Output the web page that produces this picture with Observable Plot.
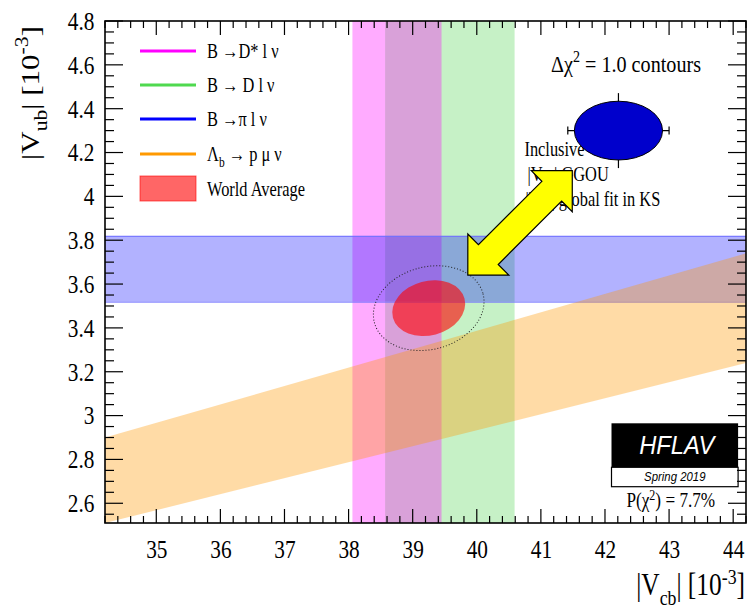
<!DOCTYPE html>
<html>
<head>
<meta charset="utf-8">
<script src="https://cdn.jsdelivr.net/npm/d3@7"></script>
<script src="https://cdn.jsdelivr.net/npm/@observablehq/plot@0.6"></script>
<style>
  html, body { margin: 0; padding: 0; background: #fff; }
  #chart svg { display: block; }
</style>
</head>
<body>
<div id="chart"></div>
<script>
// ---- |Vcb| from exclusive B -> D(*) l nu (vertical bands, units 10^-3)
const vcbModes = ["B → D* l ν", "B → D l ν"];
const vcbLow  = [38.06, 38.57];
const vcbHigh = [39.45, 40.59];

// ---- |Vub| from B -> pi l nu (horizontal band)
const vubLow  = 3.52;
const vubHigh = 3.82;

// ---- |Vub|/|Vcb| from Lambda_b -> p mu nu (band edges at the plot edges)
const lambdaVcb  = [34.2, 44.2];
const lambdaLow  = [2.51, 3.24];
const lambdaHigh = [2.90, 3.74];

// ---- World average (|Vcb|, |Vub|), half-axes of the dchi2 = 1 contour
const avgCenter = [39.25, 3.49];
const avgHalf   = [0.578, 0.124];
const avgTilt   = 15;        // degrees, positive correlation
const avg68Scale = 1.517;    // sqrt(2.3): 68% CL contour

// ---- Inclusive: |Vub| GGOU, |Vcb| global fit in KS
const inclCenter = [42.21, 4.30];
const inclHalf   = [0.688, 0.134];
const inclErr    = [0.79, 0.171];

// ---- arrow linking inclusive point and the exclusive overlap
const arrowFrom = [39.86, 3.641];
const arrowTo   = [41.49, 4.117];

// ---- axis ticks
const xTicks = [35, 36, 37, 38, 39, 40, 41, 42, 43, 44];
const yTicks = [2.6, 2.8, 3, 3.2, 3.4, 3.6, 3.8, 4, 4.2, 4.4, 4.6, 4.8];

const legendLabels = [
  [["B "], ["→"], ["D* l ν"]],
  [["B "], ["→"], [" D l ν"]],
  [["B "], ["→"], ["π l ν"]],
  [["Λ"], ["b", "sub"], [" → p μ ν"]]
];

const colors = {
  dstar: "#ff00ff", d: "#33cc33", pi: "#0000ff", lambda: "#ff9900",
  avg: "#ff0000", incl: "#0000cc", arrow: "#ffff00",
  legendLines: ["#ff00ff", "#4fd94f", "#0000ff", "#ff9900"]
};

const SERIF = "'Liberation Serif', 'Times New Roman', serif";
const SANS = "'Liberation Sans', Arial, sans-serif";
const SQ = 0.82;   // horizontal squeeze of the serif lettering

const vcbBands = [
  {mode: vcbModes[1], lo: vcbLow[1], hi: vcbHigh[1], fill: colors.d, op: 0.28},
  {mode: vcbModes[0], lo: vcbLow[0], hi: vcbHigh[0], fill: colors.dstar, op: 0.33}
];
const lambdaRows = lambdaVcb.map((v, i) => ({x: v, lo: lambdaLow[i], hi: lambdaHigh[i]}));

const plot = Plot.plot({
  width: 747,
  height: 608,
  marginLeft: 105,
  marginTop: 21,
  marginRight: 1,
  marginBottom: 85,
  style: {background: "white", fontFamily: SERIF, fontSize: "26px", color: "black"},
  x: {domain: [34.2, 44.2], ticks: xTicks, tickSize: 0, tickPadding: 16, tickFormat: d => String(d), label: null},
  y: {domain: [2.51, 4.8], ticks: yTicks, tickSize: 0, tickPadding: 11, tickFormat: d => String(+d.toFixed(2)), label: null},
  marks: [
    Plot.rect(vcbBands, {x1: "lo", x2: "hi", fill: "fill", fillOpacity: "op"}),
    Plot.rect([{lo: vubLow, hi: vubHigh}], {y1: "lo", y2: "hi", fill: colors.pi, fillOpacity: 0.3}),
    Plot.ruleY([vubLow, vubHigh], {stroke: "#7070ff", strokeWidth: 1}),
    Plot.areaY(lambdaRows, {x: "x", y1: "lo", y2: "hi", fill: colors.lambda, fillOpacity: 0.35})
  ]
});

document.getElementById("chart").appendChild(plot);
const svg = d3.select(plot);

// squeeze the axis numbers like the rest of the lettering
svg.selectAll("text").each(function () {
  const t = d3.select(this);
  const tr = t.attr("transform");
  if (tr) t.attr("transform", tr + ` scale(${SQ},1)`);
  else {
    const x = +t.attr("x") || 0, y = +t.attr("y") || 0;
    t.attr("x", null).attr("y", null).attr("transform", `translate(${x},${y}) scale(${SQ},1)`);
  }
});

const sxs = plot.scale("x"), sys = plot.scale("y");
const X = sxs.apply ? sxs.apply : d3.scaleLinear(sxs.domain, sxs.range);
const Y = sys.apply ? sys.apply : d3.scaleLinear(sys.domain, sys.range);
const fLeft = X(34.2), fRight = X(44.2), fTop = Y(4.8), fBottom = Y(2.51);

const layer = svg.append("g");

// text with sub/superscript pieces
function rich(parent, parts, {x, y, size, anchor = "start", family = SERIF, fill = "black",
                              style = null, weight = null, sq = SQ, rotate = 0, supShift = 0.42}) {
  const tf = rotate
    ? `translate(${x},${y}) rotate(${rotate}) scale(1,${sq})`
    : `translate(${x},${y}) scale(${sq},1)`;
  const t = parent.append("text")
    .attr("transform", tf)
    .attr("font-size", size)
    .attr("font-family", family)
    .attr("text-anchor", anchor)
    .attr("fill", fill);
  if (style) t.attr("font-style", style);
  if (weight) t.attr("font-weight", weight);
  let shift = 0;
  for (const [s, kind] of parts) {
    const target = kind === "sub" ? size * 0.32 : kind === "sup" ? -size * supShift : 0;
    const ts = t.append("tspan").text(s).attr("dy", target - shift);
    if (kind) ts.attr("font-size", size * 0.7);
    shift = target;
  }
  return t;
}

// ellipse drawn in data units, tilted in screen space
function ellipse(parent, c, half, tilt, scale = 1) {
  const cx = X(c[0]), cy = Y(c[1]);
  const rx = (X(c[0] + half[0]) - cx) * scale;
  const ry = (cy - Y(c[1] + half[1])) * scale;
  return parent.append("ellipse")
    .attr("cx", 0).attr("cy", 0).attr("rx", rx).attr("ry", ry)
    .attr("transform", `translate(${cx},${cy}) rotate(${-tilt})`);
}

// world average: filled dchi2 = 1 contour and dotted 68% CL contour
ellipse(layer, avgCenter, avgHalf, avgTilt).attr("fill", colors.avg).attr("fill-opacity", 0.6);
ellipse(layer, avgCenter, avgHalf, avgTilt, avg68Scale)
  .attr("fill", "none").attr("stroke", "#222").attr("stroke-width", 1).attr("stroke-dasharray", "1,2");

// legend
const legend = layer.append("g").attr("transform", `translate(${fLeft},${fTop})`);
const rowY = [30, 64, 98, 133];
rowY.forEach((ry, i) => {
  legend.append("line").attr("x1", 35).attr("x2", 91).attr("y1", ry).attr("y2", ry)
    .attr("stroke", colors.legendLines[i]).attr("stroke-width", 3);
  rich(legend, legendLabels[i], {x: 102, y: ry + 7, size: 20});
});
legend.append("rect").attr("x", 35).attr("y", 155).attr("width", 56).attr("height", 25)
  .attr("fill", colors.avg).attr("fill-opacity", 0.6)
  .attr("stroke", colors.avg).attr("stroke-opacity", 0.6);
rich(legend, [["World Average"]], {x: 102, y: 175, size: 20});

// inclusive point: caption, error cross, ellipse
const icx = X(inclCenter[0]), icy = Y(inclCenter[1]);
rich(layer, [["Inclusive"]], {x: icx - 94, y: icy + 25, size: 20});
rich(layer, [["|V"], ["ub", "sub"], ["| GGOU"]], {x: icx - 91, y: icy + 50, size: 20});
rich(layer, [["|V"], ["cb", "sub"], ["| global fit in KS"]], {x: icx - 93, y: icy + 75, size: 20});

const ex0 = X(inclCenter[0] - inclErr[0]), ex1 = X(inclCenter[0] + inclErr[0]);
const ey0 = Y(inclCenter[1] - inclErr[1]), ey1 = Y(inclCenter[1] + inclErr[1]);
const err = layer.append("g").attr("stroke", "black").attr("stroke-width", 1.2);
err.append("line").attr("x1", ex0).attr("x2", ex1).attr("y1", icy).attr("y2", icy);
err.append("line").attr("x1", icx).attr("x2", icx).attr("y1", ey0).attr("y2", ey1);
[ex0, ex1].forEach(x => err.append("line").attr("x1", x).attr("x2", x).attr("y1", icy - 4).attr("y2", icy + 4));
ellipse(layer, inclCenter, inclHalf, 0).attr("fill", colors.incl).attr("stroke", "black").attr("stroke-width", 1);

// double-headed arrow
{
  const ax = X(arrowFrom[0]), ay = Y(arrowFrom[1]);
  const bx = X(arrowTo[0]), by = Y(arrowTo[1]);
  const len = Math.hypot(bx - ax, by - ay);
  const ux = (bx - ax) / len, uy = (by - ay) / len;
  const nx = -uy, ny = ux;
  const head = 29, headHalf = 29, shaft = 14;
  const P = (px, py, a, n) => [px + ux * a + nx * n, py + uy * a + ny * n];
  const pts = [
    [ax, ay],
    P(ax, ay, head, headHalf), P(ax, ay, head, shaft),
    P(bx, by, -head, shaft), P(bx, by, -head, headHalf),
    [bx, by],
    P(bx, by, -head, -headHalf), P(bx, by, -head, -shaft),
    P(ax, ay, head, -shaft), P(ax, ay, head, -headHalf)
  ];
  layer.append("polygon").attr("points", pts.map(p => p.join(",")).join(" "))
    .attr("fill", colors.arrow).attr("stroke", "black").attr("stroke-width", 1.2)
    .attr("stroke-linejoin", "miter");
}

// contour note
rich(layer, [["Δχ"], ["2", "sup"], [" = 1.0 contours"]], {x: fRight - 120, y: fTop + 51, size: 24, anchor: "middle", sq: 0.84});

// HFLAV badge
{
  const bx = fRight - 134.5, by = fBottom - 99.7, bw = 126.6;
  layer.append("rect").attr("x", bx).attr("y", by).attr("width", bw).attr("height", 44).attr("fill", "black");
  layer.append("rect").attr("x", bx).attr("y", by + 44).attr("width", bw).attr("height", 19.4)
    .attr("fill", "white").attr("stroke", "black").attr("stroke-width", 1.2);
  rich(layer, [["HFLAV"]], {x: bx + bw / 2 + 2, y: by + 31, size: 25, family: SANS, style: "italic", fill: "white", anchor: "middle", sq: 0.95});
  rich(layer, [["Spring 2019"]], {x: bx + bw / 2, y: by + 58, size: 12, family: SANS, style: "italic", anchor: "middle", sq: 0.95});
  rich(layer, [["P(χ"], ["2", "sup"], [") = 7.7%"]], {x: bx + bw / 2 - 4, y: fBottom - 16, size: 20, anchor: "middle", sq: 0.86, supShift: 0.36});
}

// ticks on all four sides, pointing inward
const ticks = layer.append("g").attr("stroke", "black").attr("stroke-width", 1.2);
const xMinor = d3.range(34.2, 44.25, 0.2).map(v => +v.toFixed(1));
const yMinor = d3.range(2.55, 4.801, 0.05).map(v => +v.toFixed(2));
const isXMajor = v => Math.abs(v - Math.round(v)) < 1e-6;
const isYMajor = v => Math.abs(v * 5 - Math.round(v * 5)) < 1e-6;
xMinor.forEach(v => {
  const L = isXMajor(v) ? 14 : 7, px = X(v);
  ticks.append("line").attr("x1", px).attr("x2", px).attr("y1", fBottom).attr("y2", fBottom - L);
  ticks.append("line").attr("x1", px).attr("x2", px).attr("y1", fTop).attr("y2", fTop + L);
});
yMinor.forEach(v => {
  const L = isYMajor(v) ? 18 : 9, py = Y(v);
  ticks.append("line").attr("x1", fLeft).attr("x2", fLeft + L).attr("y1", py).attr("y2", py);
  ticks.append("line").attr("x1", fRight).attr("x2", fRight - L).attr("y1", py).attr("y2", py);
});
layer.append("rect").attr("x", fLeft).attr("y", fTop).attr("width", fRight - fLeft).attr("height", fBottom - fTop)
  .attr("fill", "none").attr("stroke", "black").attr("stroke-width", 1.6);

// axis titles
rich(layer, [["|V"], ["cb", "sub"], ["| [10"], ["-3", "sup"], ["]"]], {x: fRight - 1, y: fBottom + 72, size: 31, anchor: "end", supShift: 0.36});
rich(layer, [["|V"], ["ub", "sub"], ["| [10"], ["-3", "sup"], ["]"]], {x: 39, y: fTop + 72, size: 31, anchor: "middle", rotate: -90});
</script>
</body>
</html>
